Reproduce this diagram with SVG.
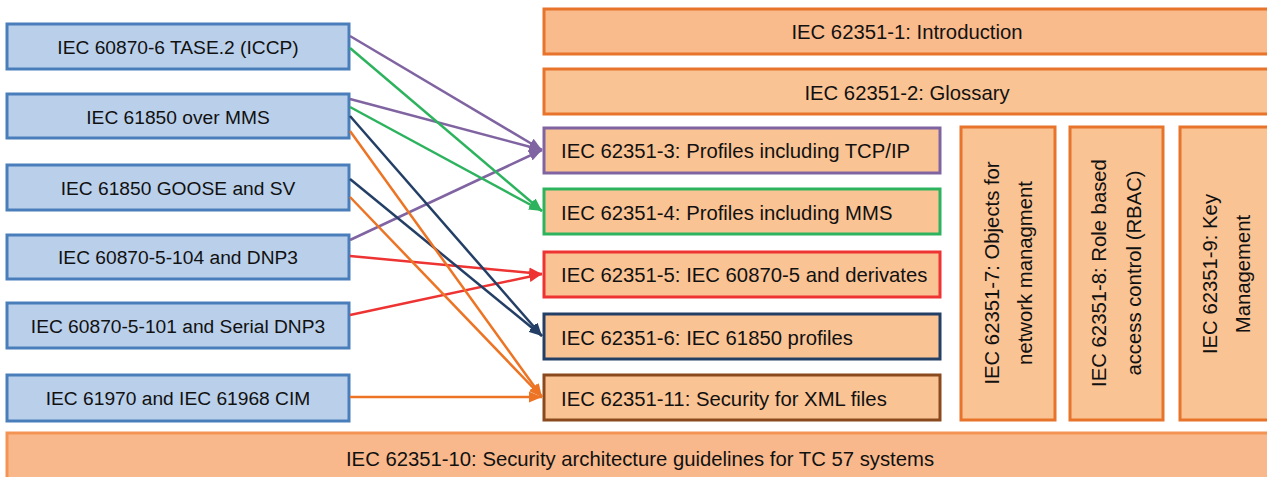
<svg xmlns="http://www.w3.org/2000/svg" width="1267" height="477" viewBox="0 0 1267 477">
<style>
text{font-family:"Liberation Sans",Arial,sans-serif;font-size:20.3px;fill:#111}
.src rect{fill:#B9CFEA;stroke:#4A7EBB;stroke-width:3}
.src text{text-anchor:middle;font-size:19.2px}
.dst rect{fill:#FAC394;stroke-width:3}
.top rect{fill:#F9BA8C;stroke:#E8732A;stroke-width:3}
.top text,.vert text{text-anchor:middle}
.vert rect{fill:#FAC394;stroke:#E8732A;stroke-width:3}
.bot rect{fill:#F8B88B;stroke:#F39455;stroke-width:3}
.c line{stroke-width:2.5;fill:none}
</style>
<defs>
<marker id="ap" viewBox="0 0 12 10" refX="12" refY="5" markerWidth="13" markerHeight="11" markerUnits="userSpaceOnUse" orient="auto"><path d="M0,0L12,5L0,10z" fill="#8064A2"/></marker>
<marker id="ag" viewBox="0 0 12 10" refX="12" refY="5" markerWidth="13" markerHeight="11" markerUnits="userSpaceOnUse" orient="auto"><path d="M0,0L12,5L0,10z" fill="#2DB35E"/></marker>
<marker id="ar" viewBox="0 0 12 10" refX="12" refY="5" markerWidth="13" markerHeight="11" markerUnits="userSpaceOnUse" orient="auto"><path d="M0,0L12,5L0,10z" fill="#EE3333"/></marker>
<marker id="an" viewBox="0 0 12 10" refX="12" refY="5" markerWidth="13" markerHeight="11" markerUnits="userSpaceOnUse" orient="auto"><path d="M0,0L12,5L0,10z" fill="#243F66"/></marker>
<marker id="ao" viewBox="0 0 12 10" refX="12" refY="5" markerWidth="13" markerHeight="11" markerUnits="userSpaceOnUse" orient="auto"><path d="M0,0L12,5L0,10z" fill="#EC7424"/></marker>
</defs>

<g id="src1" class="src"><rect x="7" y="24" width="342" height="45"/><text x="178" y="54">IEC 60870-6 TASE.2 (ICCP)</text></g>
<g id="src2" class="src"><rect x="7" y="94" width="342" height="44"/><text x="178" y="124">IEC 61850 over MMS</text></g>
<g id="src3" class="src"><rect x="7" y="165" width="342" height="45"/><text x="178" y="195">IEC 61850 GOOSE and SV</text></g>
<g id="src4" class="src"><rect x="7" y="235" width="342" height="44"/><text x="178" y="264">IEC 60870-5-104 and DNP3</text></g>
<g id="src5" class="src"><rect x="7" y="303" width="342" height="45"/><text x="178" y="333">IEC 60870-5-101 and Serial DNP3</text></g>
<g id="src6" class="src"><rect x="7" y="375" width="342" height="46"/><text x="178" y="405">IEC 61970 and IEC 61968 CIM</text></g>

<g id="p1" class="top"><rect x="544" y="9" width="730" height="45"/><text x="907" y="39">IEC 62351-1: Introduction</text></g>
<g id="p2" class="top"><rect x="544" y="69" width="730" height="45" style="fill:#FAC394"/><text x="907" y="100">IEC 62351-2: Glossary</text></g>
<g id="p3" class="dst"><rect x="544" y="128" width="396" height="45" stroke="#8064A2"/><text x="561" y="158">IEC 62351-3: Profiles including TCP/IP</text></g>
<g id="p4" class="dst"><rect x="544" y="189" width="396" height="45" stroke="#2DB35E"/><text x="561" y="220">IEC 62351-4: Profiles including MMS</text></g>
<g id="p5" class="dst"><rect x="544" y="252" width="396" height="45" stroke="#EE3333"/><text x="561" y="282">IEC 62351-5: IEC 60870-5 and derivates</text></g>
<g id="p6" class="dst"><rect x="544" y="314" width="396" height="45" stroke="#243F66"/><text x="561" y="345">IEC 62351-6: IEC 61850 profiles</text></g>
<g id="p11" class="dst"><rect x="544" y="375" width="396" height="45" stroke="#8B4A1E"/><text x="561" y="406">IEC 62351-11: Security for XML files</text></g>

<g id="p7" class="vert"><rect x="961" y="127" width="94" height="293"/><text transform="translate(999,273) rotate(-90)"><tspan x="0" y="0">IEC 62351-7: Objects for</tspan><tspan x="0" y="33">network managment</tspan></text></g>
<g id="p8" class="vert"><rect x="1070" y="127" width="93" height="293"/><text transform="translate(1106,273) rotate(-90)"><tspan x="0" y="0">IEC 62351-8: Role based</tspan><tspan x="0" y="35">access control (RBAC)</tspan></text></g>
<g id="p9" class="vert"><rect x="1180" y="127" width="100" height="293"/><text transform="translate(1217,274) rotate(-90)"><tspan x="0" y="0">IEC 62351-9: Key</tspan><tspan x="0" y="33">Management</tspan></text></g>

<g id="p10" class="bot"><rect x="7" y="433" width="1270" height="50"/><text x="640" y="466" text-anchor="middle">IEC 62351-10: Security architecture guidelines for TC 57 systems</text></g>

<g id="connectors" class="c">
<line x1="350" y1="36" x2="542" y2="150" stroke="#8064A2" marker-end="url(#ap)"/>
<line x1="350" y1="99" x2="542" y2="150" stroke="#8064A2" marker-end="url(#ap)"/>
<line x1="350" y1="240" x2="542" y2="150" stroke="#8064A2" marker-end="url(#ap)"/>
<line x1="350" y1="48" x2="542" y2="211" stroke="#2DB35E" marker-end="url(#ag)"/>
<line x1="350" y1="107" x2="542" y2="211" stroke="#2DB35E" marker-end="url(#ag)"/>
<line x1="350" y1="256" x2="542" y2="274" stroke="#EE3333" marker-end="url(#ar)"/>
<line x1="350" y1="315" x2="542" y2="274" stroke="#EE3333" marker-end="url(#ar)"/>
<line x1="350" y1="116" x2="542" y2="336" stroke="#243F66" marker-end="url(#an)"/>
<line x1="350" y1="179" x2="542" y2="336" stroke="#243F66" marker-end="url(#an)"/>
<line x1="350" y1="131" x2="542" y2="397" stroke="#EC7424" marker-end="url(#ao)"/>
<line x1="350" y1="197" x2="542" y2="397" stroke="#EC7424" marker-end="url(#ao)"/>
<line x1="350" y1="397" x2="542" y2="397" stroke="#EC7424" marker-end="url(#ao)"/>
</g>
</svg>
